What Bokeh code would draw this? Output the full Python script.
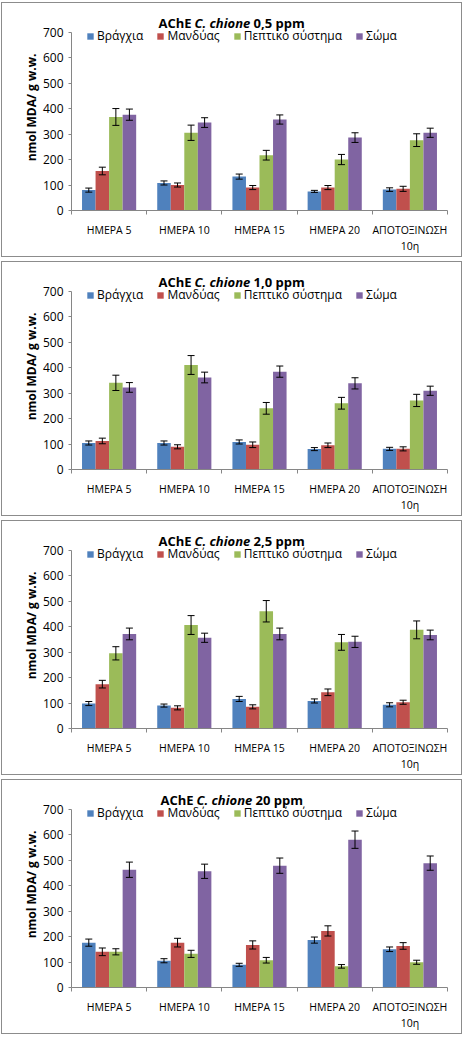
from bokeh.plotting import figure
from bokeh.models import (Range1d, FixedTicker, Whisker, TeeHead, ColumnDataSource,
                          Legend, LegendItem, Label)
from bokeh.layouts import column
from bokeh.transform import dodge
from bokeh.embed import file_html
from bokeh.resources import INLINE

categories = ["ΗΜΕΡΑ 5", "ΗΜΕΡΑ 10", "ΗΜΕΡΑ 15", "ΗΜΕΡΑ 20", "ΑΠΟΤΟΞΙΝΩΣΗ\n10η"]
series_names = ["Βράγχια", "Μανδύας", "Πεπτικό σύστημα", "Σώμα"]
series_colors = ["#4F81BD", "#C0504D", "#9BBB59", "#8064A2"]
y_ticks = [0, 100, 200, 300, 400, 500, 600, 700]
concentrations = ["0,5 ppm", "1,0 ppm", "2,5 ppm", "20 ppm"]

# 0,5 ppm
gills_05 = [80, 108, 133, 75, 82]
gills_05_err = [8, 8, 10, 4, 7]
mantle_05 = [155, 100, 90, 90, 85]
mantle_05_err = [15, 8, 8, 8, 10]
digest_05 = [367, 305, 217, 200, 276]
digest_05_err = [33, 30, 19, 20, 25]
body_05 = [376, 345, 357, 286, 305]
body_05_err = [22, 19, 18, 19, 18]

# 1,0 ppm
gills_10 = [104, 104, 108, 80, 81]
gills_10_err = [8, 8, 8, 6, 6]
mantle_10 = [112, 89, 97, 95, 81]
mantle_10_err = [11, 8, 11, 9, 8]
digest_10 = [340, 410, 240, 260, 271]
digest_10_err = [30, 37, 23, 23, 24]
body_10 = [322, 361, 384, 338, 309]
body_10_err = [19, 21, 22, 22, 18]

# 2,5 ppm
gills_25 = [98, 90, 116, 108, 93]
gills_25_err = [8, 6, 10, 8, 8]
mantle_25 = [174, 81, 85, 142, 103]
mantle_25_err = [15, 8, 8, 13, 8]
digest_25 = [295, 406, 460, 338, 387]
digest_25_err = [26, 37, 42, 31, 35]
body_25 = [371, 356, 371, 340, 367]
body_25_err = [23, 18, 23, 22, 19]

# 20 ppm
gills_20 = [176, 105, 89, 186, 150]
gills_20_err = [14, 8, 6, 12, 9]
mantle_20 = [140, 176, 167, 222, 163]
mantle_20_err = [15, 17, 16, 20, 13]
digest_20 = [140, 132, 107, 83, 99]
digest_20_err = [12, 14, 11, 7, 8]
body_20 = [462, 456, 478, 580, 488]
body_20_err = [30, 28, 30, 34, 28]

panels = [
    (concentrations[0], [(gills_05, gills_05_err), (mantle_05, mantle_05_err),
                         (digest_05, digest_05_err), (body_05, body_05_err)]),
    (concentrations[1], [(gills_10, gills_10_err), (mantle_10, mantle_10_err),
                         (digest_10, digest_10_err), (body_10, body_10_err)]),
    (concentrations[2], [(gills_25, gills_25_err), (mantle_25, mantle_25_err),
                         (digest_25, digest_25_err), (body_25, body_25_err)]),
    (concentrations[3], [(gills_20, gills_20_err), (mantle_20, mantle_20_err),
                         (digest_20, digest_20_err), (body_20, body_20_err)]),
]

FONT = "Open Sans"
AXIS_GRAY = "#868686"
BAR_W = 0.18
PANEL_W = 459
PANEL_H = 253
MB_TOP, MB_BOTTOM = 1, 43
AXIS_PX = 181  # pixel height of the 0-700 axis
FRAME_H = PANEL_H - MB_TOP - MB_BOTTOM
# the plot area extends above the 700 tick so that title and legend sit inside it
Y_TOP = 700 * FRAME_H / AXIS_PX
cat_pos = list(range(1, len(categories) + 1))


def make_panel(conc, data):
    p = figure(width=PANEL_W, height=PANEL_H,
               x_range=Range1d(0.5, len(categories) + 0.5),
               y_range=Range1d(0, Y_TOP), output_backend="svg", toolbar_location=None,
               min_border_left=69, min_border_right=14, min_border_top=MB_TOP,
               min_border_bottom=MB_BOTTOM, margin=0)
    p.outline_line_color = None
    p.xgrid.visible = False
    p.ygrid.visible = False

    items = []
    for k, ((vals, errs), name, color) in enumerate(zip(data, series_names, series_colors)):
        src = ColumnDataSource(dict(
            x=cat_pos, top=vals,
            upper=[v + e for v, e in zip(vals, errs)],
            lower=[v - e for v, e in zip(vals, errs)],
        ))
        off = (k - 1.5) * BAR_W
        r = p.vbar(x=dodge("x", off, range=p.x_range), top="top", width=BAR_W,
                   source=src, fill_color=color, line_color=None)
        items.append(LegendItem(label=name, renderers=[r]))
        w = Whisker(base=dodge("x", off, range=p.x_range), upper="upper", lower="lower",
                    source=src, line_color="black", line_width=1, level="overlay",
                    upper_head=TeeHead(size=7, line_color="black", line_width=1),
                    lower_head=TeeHead(size=7, line_color="black", line_width=1))
        p.add_layout(w)

    legend = Legend(items=items, orientation="horizontal", location=(15, 166),
                    glyph_width=8, glyph_height=8, label_standoff=3, spacing=13,
                    padding=0, margin=0, label_height=17,
                    label_text_font=FONT, label_text_font_size="12px",
                    label_text_color="#000000",
                    border_line_color=None, background_fill_alpha=0)
    p.add_layout(legend)

    # Title in three pieces (bold / bold italic / bold)
    shift = 0 if "," in conc else 2
    common = dict(x_units="screen", y_units="screen", y=188, text_baseline="alphabetic",
                  text_font=FONT, text_font_size="13px", text_color="#000000")
    p.add_layout(Label(x=120 + shift, text="AChE", text_align="right",
                       text_font_style="bold", **common))
    p.add_layout(Label(x=123 + shift, text="C. chione", text_align="left",
                       text_font_style="bold italic", **common))
    p.add_layout(Label(x=182 + shift, text=conc, text_align="left",
                       text_font_style="bold", **common))

    # x axis: labels at category centres, ticks between categories
    xa = p.xaxis[0]
    xa.ticker = FixedTicker(ticks=cat_pos,
                            minor_ticks=[c - 0.5 for c in cat_pos] + [cat_pos[-1] + 0.5])
    xa.major_label_overrides = {c: lab for c, lab in zip(cat_pos, categories)}
    xa.major_tick_line_color = None
    xa.major_tick_out = 0
    xa.major_tick_in = 0
    xa.minor_tick_out = 4
    xa.minor_tick_in = 0
    xa.minor_tick_line_color = AXIS_GRAY
    xa.axis_line_color = AXIS_GRAY
    xa.major_label_standoff = 8
    xa.major_label_text_font = FONT
    xa.major_label_text_font_size = "10.5px"
    xa.major_label_text_color = "#000000"

    ya = p.yaxis[0]
    ya.ticker = FixedTicker(ticks=y_ticks, minor_ticks=[])
    ya.bounds = (0, 700)
    ya.major_tick_out = 3
    ya.major_tick_in = 0
    ya.minor_tick_line_color = None
    ya.major_tick_line_color = AXIS_GRAY
    ya.axis_line_color = AXIS_GRAY
    ya.major_label_standoff = 5
    ya.major_label_text_font = FONT
    ya.major_label_text_font_size = "12px"
    ya.major_label_text_color = "#000000"
    ya.axis_label = "nmol MDA/ g w.w."
    ya.axis_label_text_font = FONT
    ya.axis_label_text_font_style = "bold"
    ya.axis_label_text_font_size = "12px"
    ya.axis_label_text_color = "#000000"
    ya.axis_label_standoff = 0

    return column(p, spacing=0,
                  styles={"border": "1px solid #8c8c8c", "background": "white"})


panel_layouts = [make_panel(c, d) for c, d in panels]
layout = column(*panel_layouts, spacing=4, margin=(2, 0, 0, 1))

with open("out.html", "w") as f:
    f.write(file_html(layout, INLINE))
